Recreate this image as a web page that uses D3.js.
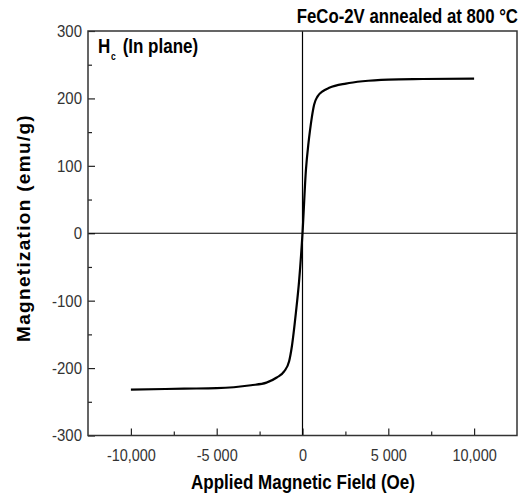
<!DOCTYPE html>
<html>
<head>
<meta charset="utf-8">
<script src="https://cdn.jsdelivr.net/npm/d3@7"></script>
<style>
  html, body { margin: 0; padding: 0; background: #fff; }
  text { font-family: "Liberation Sans", Arial, sans-serif; }
  .tick text { font-size: 17px; fill: #333; }
  .tick line { stroke: #222; stroke-width: 1.2; }
</style>
</head>
<body>
<svg id="chart" width="523" height="503"></svg>
<script>
// M-H loop (in-plane)
const fieldOe = [-10000, -8000, -6900, -5000, -4000, -3000, -2100, -1500, -1070, -780, -620, -385, -195, 0,
                 200, 350, 430, 550, 680, 880, 1170, 1560, 2530, 3500, 5000, 7000, 10000];
const magnetization = [-232, -231, -230.5, -229.8, -228.4, -225.5, -221.6, -214, -205, -190, -168, -118, -70, 0,
                       94, 134, 151, 173, 191, 203, 210.5, 215.7, 222, 225.5, 228, 228.8, 229.5];

const xTicks = [-10000, -5000, 0, 5000, 10000];
const xTickLabels = ["-10,000", "-5 000", "0", "5 000", "10,000"];
const xMinorTicks = [-7500, -2500, 2500, 7500];
const yTicks = [-300, -200, -100, 0, 100, 200, 300];
const yMinorTicks = [-250, -150, -50, 50, 150, 250];

const svg = d3.select("#chart");
const plotLeft = 88, plotRight = 517, plotTop = 31, plotBottom = 435.5;

const x = d3.scaleLinear().domain([-12500, 12500]).range([plotLeft, plotRight]);
const y = d3.scaleLinear().domain([-300, 300]).range([plotBottom, plotTop]);

// squeeze text horizontally (narrow font look)
function narrow(sel, k) {
    sel.each(function() {
        const w = this.getComputedTextLength();
        d3.select(this).attr("textLength", w * k).attr("lengthAdjust", "spacingAndGlyphs");
    });
}

// Minor ticks
svg.append("g")
    .attr("transform", `translate(0,${plotBottom})`)
    .call(d3.axisBottom(x).tickValues(xMinorTicks).tickSizeInner(-4).tickSizeOuter(0).tickFormat(""))
    .call(g => g.select(".domain").remove());
svg.append("g")
    .attr("transform", `translate(${plotLeft},0)`)
    .call(d3.axisLeft(y).tickValues(yMinorTicks).tickSizeInner(-4).tickSizeOuter(0).tickFormat(""))
    .call(g => g.select(".domain").remove());

// Major ticks
svg.append("g")
    .attr("transform", `translate(0,${plotBottom})`)
    .call(d3.axisBottom(x).tickValues(xTicks).tickSizeInner(-7).tickSizeOuter(0)
        .tickPadding(13).tickFormat((d, i) => xTickLabels[i]))
    .call(g => g.select(".domain").remove())
    .call(g => narrow(g.selectAll("text"), 0.85));
svg.append("g")
    .attr("transform", `translate(${plotLeft},0)`)
    .call(d3.axisLeft(y).tickValues(yTicks).tickSizeInner(-7).tickSizeOuter(0).tickPadding(6)
        .tickFormat(d => String(d)))
    .call(g => g.select(".domain").remove())
    .call(g => narrow(g.selectAll("text"), 0.88));

// Zero lines
svg.append("line")
    .attr("x1", plotLeft).attr("x2", plotRight)
    .attr("y1", y(0)).attr("y2", y(0))
    .attr("stroke", "#000").attr("stroke-width", 1.2);
svg.append("line")
    .attr("x1", x(0)).attr("x2", x(0))
    .attr("y1", plotTop).attr("y2", plotBottom)
    .attr("stroke", "#000").attr("stroke-width", 1.2);

// Frame
svg.append("rect")
    .attr("x", plotLeft).attr("y", plotTop)
    .attr("width", plotRight - plotLeft).attr("height", plotBottom - plotTop)
    .attr("fill", "none").attr("stroke", "#333").attr("stroke-width", 1.5);

// Curve
const line = d3.line()
    .x((d, i) => x(fieldOe[i]))
    .y(d => y(d))
    .curve(d3.curveMonotoneX);
svg.append("path")
    .datum(magnetization)
    .attr("d", line)
    .attr("fill", "none")
    .attr("stroke", "#000")
    .attr("stroke-width", 2.2);

// Texts
svg.append("text")
    .attr("transform", "translate(518,23) scale(0.84,1)")
    .attr("text-anchor", "end")
    .style("font-size", "20px").style("font-weight", "bold")
    .text("FeCo-2V annealed at 800 \u00B0C");

const hc = svg.append("text")
    .attr("transform", "translate(98,53) scale(0.85,1)")
    .style("font-size", "20px").style("font-weight", "bold");
hc.append("tspan").text("H");
hc.append("tspan").attr("dy", 7).attr("dx", 1).style("font-size", "10px").text("c");
hc.append("tspan").attr("dy", -7).attr("dx", 8).text("(In plane)");

svg.append("text")
    .attr("x", 303).attr("y", 489)
    .attr("text-anchor", "middle")
    .style("font-size", "20px").style("font-weight", "bold")
    .text("Applied Magnetic Field (Oe)")
    .call(t => narrow(t, 0.85));

svg.append("text")
    .attr("transform", "translate(30,228) rotate(-90)")
    .attr("text-anchor", "middle")
    .style("font-size", "19px").style("font-weight", "bold")
    .style("letter-spacing", "1.3px")
    .text("Magnetization (emu/g)");
</script>
</body>
</html>
